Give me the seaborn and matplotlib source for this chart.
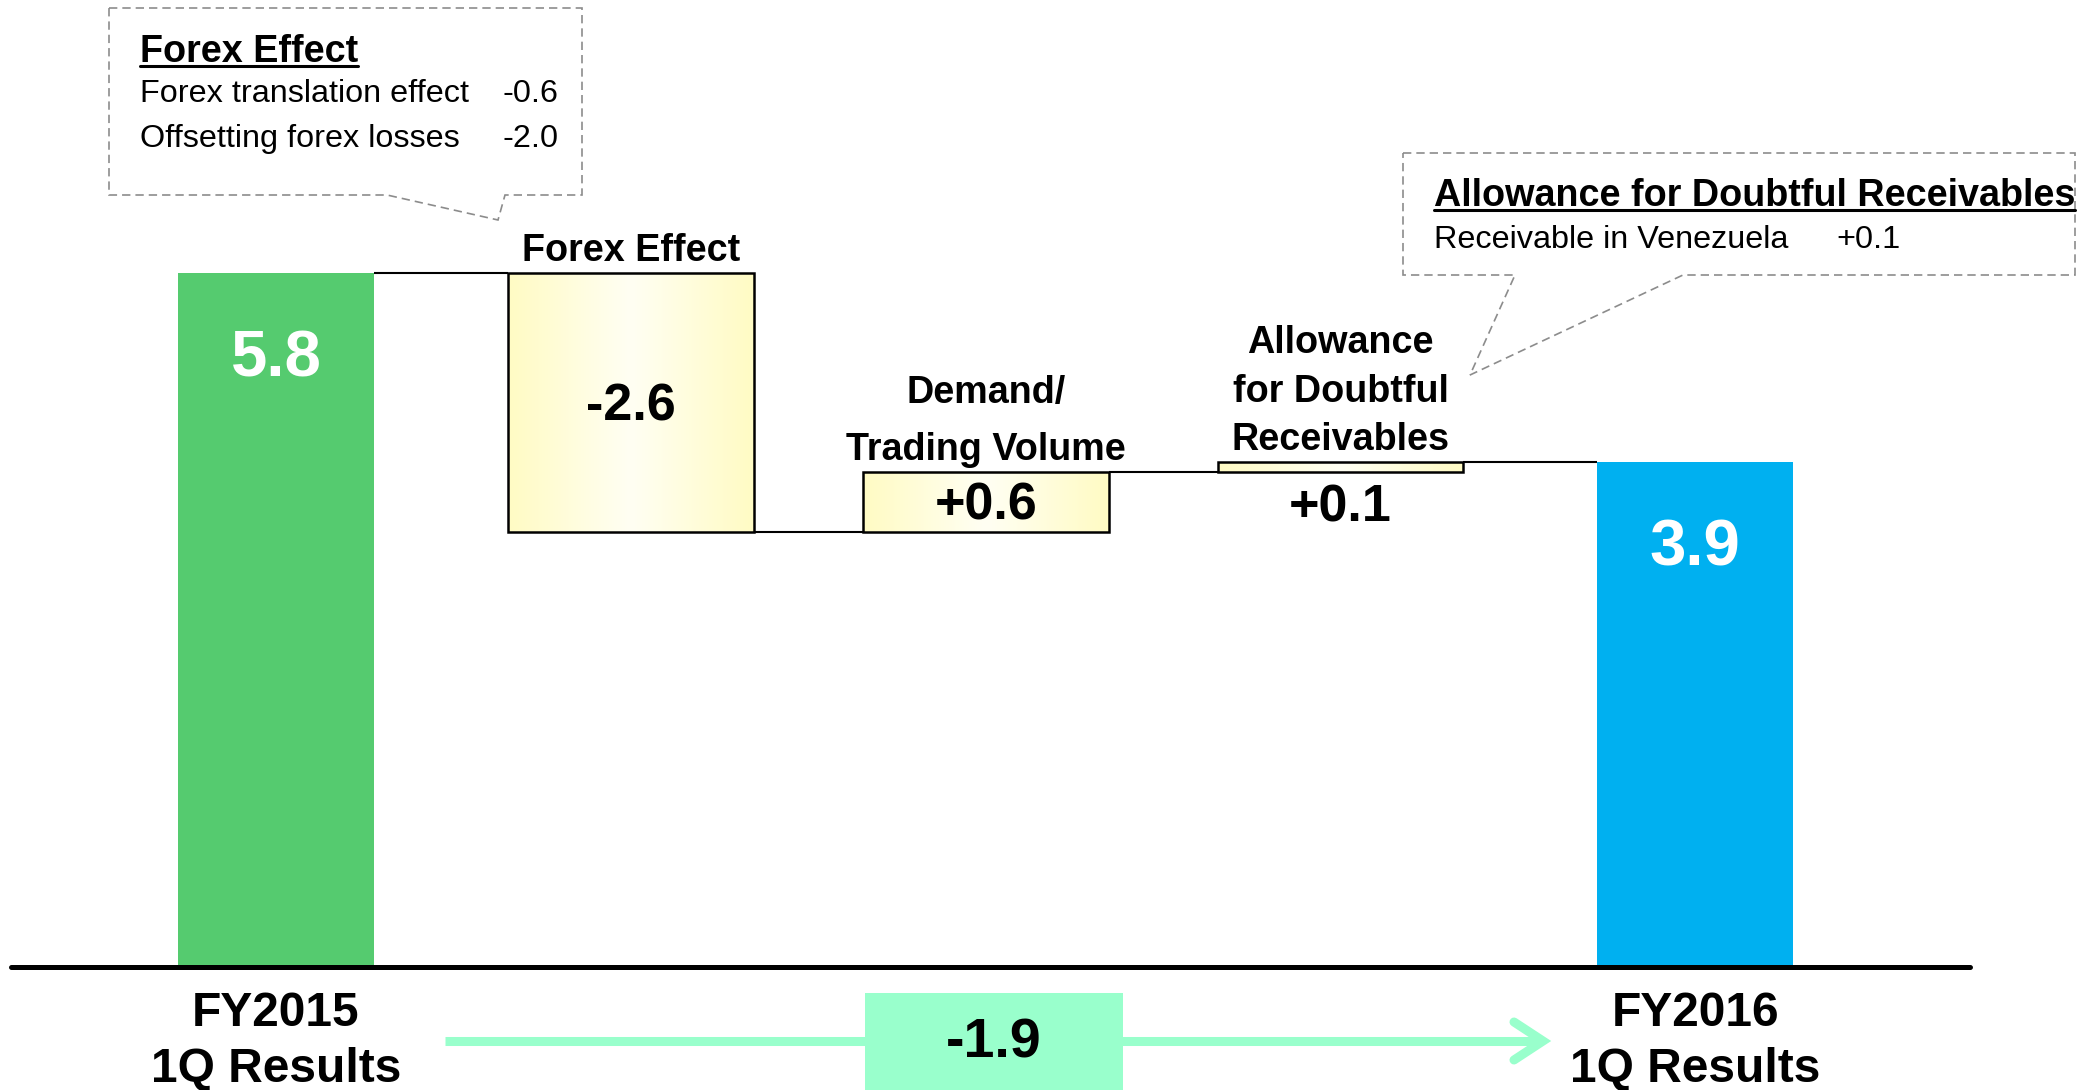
import numpy as np
import pandas as pd
import matplotlib
matplotlib.use("Agg")
import matplotlib.pyplot as plt
import seaborn as sns
from matplotlib.patches import Polygon, Rectangle
from matplotlib.lines import Line2D
from matplotlib.colors import LinearSegmentedColormap

# Operating income bridge, FY2015 1Q -> FY2016 1Q (billions of yen)
categories = ["FY2015\n1Q Results", "Forex Effect", "Demand/\nTrading Volume",
              "Allowance\nfor Doubtful\nReceivables", "FY2016\n1Q Results"]
start_value = 5.8
step_values = [-2.6, 0.6, 0.1]
end_value = 3.9
net_change = -1.9

forex_items = ["Forex translation effect", "Offsetting forex losses"]
forex_item_values = ["-0.6", "-2.0"]
allowance_items = ["Receivable in Venezuela"]
allowance_item_values = ["+0.1"]

GREEN = "#55CB6F"
BLUE = "#00B0F0"
CREAM = "#FFFBC4"
MINT = "#99FFCC"
CALLOUT = "#8C8C8C"

W, H, DPI = 2082, 1090, 100
FLOOR = -1.17          # value at which the axis line is drawn
TOTAL_W, STEP_W = 0.552, 0.693

sns.set_theme(style="white")
plt.rcParams["font.family"] = ["Liberation Sans", "DejaVu Sans"]
plt.rcParams["text.color"] = "black"

fig = plt.figure(figsize=(W / DPI, H / DPI), dpi=DPI)
ax = fig.add_axes([0, 0, 1, 1])


def fpx(x, y):
    """pixel position measured from the top-left corner -> figure fraction"""
    return x / W, 1 - y / H


# floating-bar geometry from the values
levels = [start_value]
for s in step_values:
    levels.append(levels[-1] + s)
bottoms = [FLOOR] + [min(levels[k], levels[k + 1]) for k in range(len(step_values))] + [FLOOR]
tops = [start_value] + [max(levels[k], levels[k + 1]) for k in range(len(step_values))] + [end_value]
heights = np.array(tops) - np.array(bottoms)
values = [start_value] + step_values + [end_value]
is_total = [True] + [False] * len(step_values) + [True]

df = pd.DataFrame({"category": categories, "height": heights})
sns.barplot(data=df, x="category", y="height", hue="category",
            palette=[GREEN, CREAM, CREAM, CREAM, BLUE], saturation=1,
            legend=False, errorbar=None, ax=ax)

grad = np.concatenate([np.linspace(0, 1, 64), np.linspace(1, 0, 64)])[None, :]
cream_map = LinearSegmentedColormap.from_list("cream", [CREAM, "#FFFFF3"])

for i, patch in enumerate(ax.patches):
    w = TOTAL_W if is_total[i] else STEP_W
    patch.set_x(i - w / 2)
    patch.set_width(w)
    patch.set_y(bottoms[i])
    patch.set_height(heights[i])
    patch.set_zorder(2)
    if is_total[i]:
        patch.set_edgecolor("none")
    else:
        patch.set_facecolor("none")
        patch.set_edgecolor("black")
        patch.set_linewidth(1.8)
        im = ax.imshow(grad, extent=[i - w / 2, i + w / 2, bottoms[i], tops[i]],
                       aspect="auto", cmap=cream_map, zorder=1.5, interpolation="bicubic")
        im.set_clip_path(patch)

# connector lines between consecutive bars
widths = [TOTAL_W if t else STEP_W for t in is_total]
for k, lvl in enumerate(levels):
    ax.plot([k + widths[k] / 2, k + 1 - widths[k + 1] / 2], [lvl, lvl],
            color="black", lw=1.5, zorder=1, solid_capstyle="butt")

ax.axhline(FLOOR, xmin=0.0053, xmax=0.946, color="black", lw=3.6, zorder=3)

# value labels
for i, v in enumerate(values):
    if is_total[i]:
        ax.annotate(f"{v:.1f}", (i, tops[i]), xytext=(0, -62), textcoords="offset points",
                    ha="center", va="center", color="white", fontsize=47, weight="bold")
    elif heights[i] >= 0.4:
        ax.annotate(f"{v:+.1f}", (i, (bottoms[i] + tops[i]) / 2), xytext=(0, -3),
                    textcoords="offset points", ha="center", va="center",
                    color="black", fontsize=37.5, weight="bold", zorder=4)
    else:
        ax.annotate(f"{v:+.1f}", (i, bottoms[i]), xytext=(0, -26), textcoords="offset points",
                    ha="center", va="center", color="black", fontsize=37.5, weight="bold")

# category labels
spacing = {1: 1.2, 2: 1.75, 3: 1.45}
for i, cat in enumerate(categories):
    if is_total[i]:
        ax.annotate(cat, (i, FLOOR), xytext=(0, -17), textcoords="offset points",
                    ha="center", va="top", fontsize=34.5, weight="bold",
                    linespacing=1.32, annotation_clip=False)
    else:
        ax.annotate(cat, (i, tops[i]), xytext=(0, 3), textcoords="offset points",
                    ha="center", va="bottom", fontsize=27.2, weight="bold",
                    linespacing=spacing[i], multialignment="center")

ax.set_xlim(-0.778, 5.090)
ax.set_ylim(-2.402, 8.542)
ax.set_axis_off()

# net change arrow with its box
fig.add_artist(Line2D([445 / W, 1538 / W], [fpx(0, 1041)[1]] * 2, color=MINT, lw=6.5,
                      solid_capstyle="butt", transform=fig.transFigure, zorder=1))
cx, cy = fpx(1514, 1022), fpx(1543, 1041)
cz = fpx(1514, 1060)
fig.add_artist(Line2D([cx[0], cy[0], cz[0]], [cx[1], cy[1], cz[1]], color=MINT, lw=6.5,
                      solid_capstyle="round", solid_joinstyle="miter",
                      transform=fig.transFigure, zorder=1))
bx0, by0 = fpx(865, 1090)
fig.add_artist(Rectangle((bx0, by0), (1123 - 865) / W, (1090 - 993) / H, facecolor=MINT,
                         edgecolor="none", transform=fig.transFigure, zorder=2))
fig.text(*fpx(994, 1043), f"{net_change:.1f}", ha="center", va="center",
         fontsize=40, weight="bold", zorder=3)


def callout(outline, title, items, item_values, x_text, y_title, y_items, x_val, val_ha):
    pts = [fpx(x, y) for x, y in outline]
    fig.add_artist(Polygon(pts, closed=True, fill=False, edgecolor=CALLOUT, lw=1.2,
                           linestyle=(0, (5, 3)), transform=fig.transFigure))
    t = fig.text(*fpx(x_text, y_title), title, ha="left", va="baseline",
                 fontsize=27.2, weight="bold")
    for name, val, y in zip(items, item_values, y_items):
        fig.text(*fpx(x_text, y), name, ha="left", va="baseline", fontsize=23.3)
        fig.text(*fpx(x_val, y), val, ha=val_ha, va="baseline", fontsize=23.3)
    fig.canvas.draw()
    bb = t.get_window_extent(fig.canvas.get_renderer())
    uy = fpx(0, y_title + 4)[1]
    fig.add_artist(Line2D([bb.x0 / W, bb.x1 / W], [uy, uy], color="black", lw=2.2,
                          transform=fig.transFigure))


callout([(109, 8), (582, 8), (582, 195), (505, 195), (498, 220), (387, 195), (109, 195)],
        "Forex Effect", forex_items, forex_item_values,
        140, 62, [102, 147], 558, "right")
callout([(1403, 153), (2075, 153), (2075, 275), (1683, 275), (1470, 375), (1515, 275), (1403, 275)],
        "Allowance for Doubtful Receivables", allowance_items, allowance_item_values,
        1434, 206, [248], 1836, "left")

fig.savefig("out.png", dpi=DPI, facecolor="white")
